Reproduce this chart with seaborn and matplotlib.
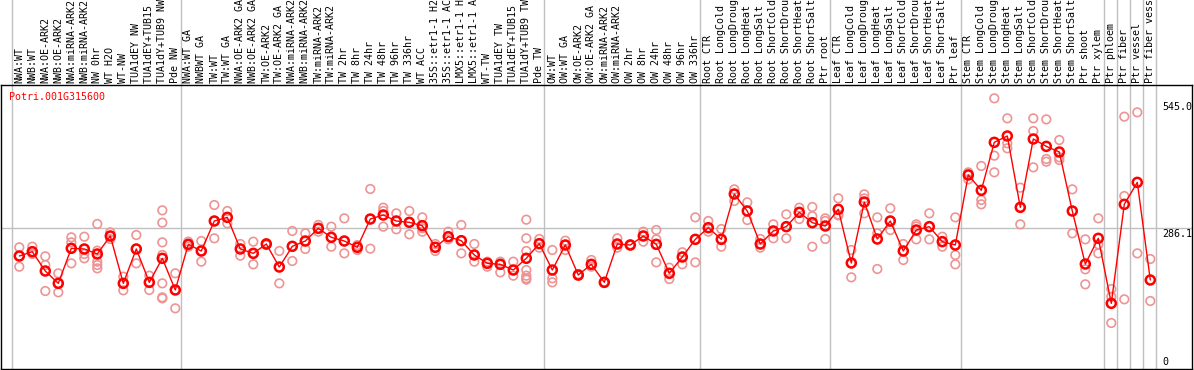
import numpy as np
import pandas as pd
import matplotlib
matplotlib.use("Agg")
import matplotlib.pyplot as plt
import matplotlib.transforms as mtransforms
import seaborn as sns

gene = "Potri.001G315600"

labels = [
    "NWA:WT", "NWB:WT", "NWA:OE-ARK2", "NWB:OE-ARK2", "NWA:miRNA-ARK2", "NWB:miRNA-ARK2",
    "NW 0hr", "WT H2O", "WT-NW", "TUA1dEY NW", "TUA1dEY+TUB15 NW", "TUA1dY+TUB9 NW", "Pde NW",
    "NWA:WT GA", "NWBWT GA", "TW:WT", "TW:WT GA", "NWA:OE-ARK2 GA", "NWB:OE-ARK2 GA",
    "TW:OE-ARK2", "TW:OE-ARK2 GA", "NWA:miRNA-ARK2 GA", "NWB:miRNA-ARK2 GA", "TW:miRNA-ARK2",
    "TW:miRNA-ARK2 GA",
    "TW 2hr", "TW 8hr", "TW 24hr", "TW 48hr", "TW 96hr", "TW 336hr", "WT ACC",
    "35S::etr1-1 H2O", "35S::etr1-1 ACC", "LMX5::etr1-1 H2O", "LMX5::etr1-1 ACC", "WT-TW",
    "TUA1dEY TW", "TUA1dEY+TUB15 TW", "TUA1dY+TUB9 TW", "Pde TW",
    "OW:WT", "OW:WT GA", "OW:OE-ARK2", "OW:OE-ARK2 GA", "OW:miRNA-ARK2", "OW:miRNA-ARK2 GA",
    "OW 2hr", "OW 8hr", "OW 24hr", "OW 48hr", "OW 96hr", "OW 336hr",
    "Root CTR", "Root LongCold", "Root LongDrought", "Root LongHeat", "Root LongSalt",
    "Root ShortCold", "Root ShortDrought", "Root ShortHeat", "Root ShortSalt", "Ptr root",
    "Leaf CTR", "Leaf LongCold", "Leaf LongDrought", "Leaf LongHeat", "Leaf LongSalt",
    "Leaf ShortCold", "Leaf ShortDrought", "Leaf ShortHeat", "Leaf ShortSalt", "Ptr leaf",
    "Stem CTR", "Stem LongCold", "Stem LongDrought", "Stem LongHeat", "Stem LongSalt",
    "Stem ShortCold", "Stem ShortDrought", "Stem ShortHeat", "Stem ShortSalt", "Ptr shoot",
    "Ptr xylem", "Ptr phloem", "Ptr fiber", "Ptr vessel", "Ptr fiber vessel",
]

# index of the last sample of each group (group separators)
group_ends = [-1, 12, 40, 52, 62, 72, 83, 84, 85, 86, 87]

means = [
    229.8, 238.6, 199.3, 174.2, 245.4, 244.1, 233.9, 270.5, 174.2, 244.1, 176.2, 225.1, 160.7,
    253.5, 240.0, 301.0, 308.4, 244.1, 235.2, 254.2, 207.4, 249.5, 260.3, 286.1, 267.8, 260.3,
    247.5, 305.0, 313.2, 301.0, 298.3, 291.5, 247.5, 269.1, 261.0, 231.9, 214.9, 212.9, 201.3,
    225.1, 254.9,
    201.3, 252.2, 191.2, 212.9, 176.2, 254.2, 252.2, 270.5, 253.5, 194.6, 227.8, 263.7,
    287.4, 263.7, 355.9, 321.3, 254.2, 280.7, 289.5, 318.6, 297.6, 290.8,
    324.7, 215.6, 339.6, 264.4, 301.0, 240.0, 282.7, 289.5, 259.0, 252.2,
    394.6, 363.4, 461.0, 473.9, 328.8, 467.8, 452.8, 441.3, 321.3, 213.5, 265.8,
    133.5, 334.9, 379.6, 181.0,
]

replicates = [
    [247.5, 229.8, 208.1], [248.8, 238.6, 233.9], [229.2, 211.5, 158.6], [194.6, 174.2, 155.9],
    [267.8, 257.6, 245.4, 214.9], [269.1, 244.1, 233.9, 225.1],
    [294.9, 240.7, 218.3, 211.5, 204.7], [277.9, 270.5, 264.4], [187.8, 174.2, 160.0],
    [272.5, 244.1, 214.9], [189.8, 176.2, 160.7],
    [322.7, 297.6, 257.6, 231.9, 174.2, 145.7, 143.7], [194.6, 160.7, 123.4],
    [259.0, 253.5, 248.8], [260.3, 240.0, 218.3], [333.5, 301.0, 265.8], [321.3, 308.4, 296.2],
    [254.2, 244.1, 230.5], [259.0, 235.2, 212.9], [256.0, 254.2, 252.0], [240.0, 207.4, 174.2],
    [280.7, 249.5, 219.6], [275.9, 260.3, 244.1], [292.9, 286.1, 279.3], [289.5, 267.8, 248.8],
    [306.4, 260.3, 235.2], [252.0, 247.5, 242.0], [366.1, 305.0, 244.7], [328.1, 321.3, 289.5],
    [316.6, 301.0, 284.1], [321.3, 298.3, 273.9], [308.4, 286.1, 279.3], [254.2, 247.5, 240.0],
    [279.3, 269.1, 263.7], [292.9, 261.0, 235.2], [254.2, 231.9, 218.3], [218.3, 214.9, 208.1],
    [218.3, 212.9, 196.6], [218.3, 201.3, 189.8],
    [303.7, 265.8, 240.0, 201.3, 189.8, 184.4, 181.7], [264.4, 254.9, 246.8],
    [242.0, 201.3, 184.4, 176.2], [261.0, 252.2, 242.0], [193.0, 191.2, 189.5],
    [221.7, 212.9, 208.1], [177.5, 176.2, 175.0], [265.8, 254.2, 246.8], [253.5, 252.2, 251.0],
    [279.3, 270.5, 259.0], [282.7, 263.7, 253.5, 216.9], [206.1, 194.6, 183.0],
    [237.4, 227.8, 212.9], [308.4, 263.7, 216.9],
    [301.0, 287.4, 279.3], [284.7, 263.7, 248.8], [365.4, 355.9, 341.7], [339.0, 321.3, 303.0],
    [264.4, 254.2, 246.8], [294.2, 280.7, 265.8], [314.5, 289.5, 265.8], [328.1, 318.6, 305.0],
    [329.5, 310.7, 248.8], [306.4, 301.0, 264.4],
    [347.1, 314.0, 312.4], [242.0, 215.6, 186.4], [355.2, 347.0, 316.6], [308.4, 275.9, 203.4],
    [326.8, 301.0, 282.7], [254.2, 240.0, 221.7], [294.2, 290.0, 263.7], [316.6, 289.5, 263.7],
    [269.1, 259.0, 248.8], [308.4, 231.9, 212.9],
    [400.0, 396.0, 385.7], [412.9, 343.7, 334.9], [550.5, 433.9, 400.0], [509.8, 459.0, 448.8],
    [368.8, 328.8, 294.2], [509.8, 484.0, 410.1], [507.7, 427.1, 421.7], [465.7, 430.5, 425.1],
    [365.4, 321.3, 275.9], [263.7, 202.7, 172.2], [306.4, 253.5, 235.2],
    [162.7, 147.1, 93.6], [513.2, 351.8, 141.7], [522.0, 235.2], [223.7, 138.3],
]

ref_value = 286.1
tick_values = [545.0, 286.1, 0.0]
tick_texts = ["545.0", "286.1", "0"]

# ---------------------------------------------------------------
mean_df = pd.DataFrame({"pos": np.arange(len(means)), "value": means, "sample": labels})
rep_df = pd.DataFrame(
    [(i, v) for i, reps in enumerate(replicates) for v in reps], columns=["pos", "value"]
)

sns.set_theme(style="white")
plt.rcParams["font.family"] = ["DejaVu Sans Mono", "DejaVu Sans"]

W, H = 1194, 370
fig = plt.figure(figsize=(W / 100, H / 100), dpi=100)
ax = fig.add_axes([1 / W, 1 / H, 1191 / W, 284 / H])

step, x0 = 13.0, 19.3
ax.set_xlim((1 - x0) / step, (1192 - x0) / step)
ax.set_ylim(0, 577.6)

ax.axhline(ref_value, color="#c0c0c0", lw=1, zorder=0)
for g in group_ends:
    ax.axvline(g + 0.4, ymin=0, ymax=1.31, color="#c0c0c0", lw=1, zorder=0, clip_on=False)

sns.scatterplot(data=rep_df, x="pos", y="value", ax=ax, marker="o", s=38,
                facecolors="none", edgecolor="#ee9494", linewidth=1.2, zorder=2)
sns.lineplot(data=mean_df, x="pos", y="value", ax=ax, color="#ff0000", lw=1,
             sort=False, zorder=3)
sns.scatterplot(data=mean_df, x="pos", y="value", ax=ax, marker="o", s=42,
                facecolors="none", edgecolor="#ff0000", linewidth=1.8, zorder=4)

ax.set_xticks([])
ax.set_yticks([])
ax.set_xlabel("")
ax.set_ylabel("")
for sp in ax.spines.values():
    sp.set_color("black")
    sp.set_linewidth(1)
    sp.set_visible(True)

trans_top = mtransforms.blended_transform_factory(ax.transData, ax.transAxes)
for i, lab in enumerate(labels):
    ax.text(i, 1 + 2 / 284, lab, transform=trans_top, rotation=90, ha="center",
            va="bottom", fontsize=7.2, color="black", clip_on=False)

trans_right = mtransforms.blended_transform_factory(ax.transAxes, ax.transData)
for v, t in zip(tick_values, tick_texts):
    va = "bottom" if v == 0 else "top"
    ax.text((1162 - 1) / 1191, v + (4 if v == 0 else -1), t, transform=trans_right,
            ha="left", va=va, fontsize=7.2, color="black")

fig.text(9 / W, 1 - 97 / H, gene, color="#ff0000", ha="left", va="center", fontsize=7.2)

fig.savefig("out.png", dpi=100, facecolor="white")
